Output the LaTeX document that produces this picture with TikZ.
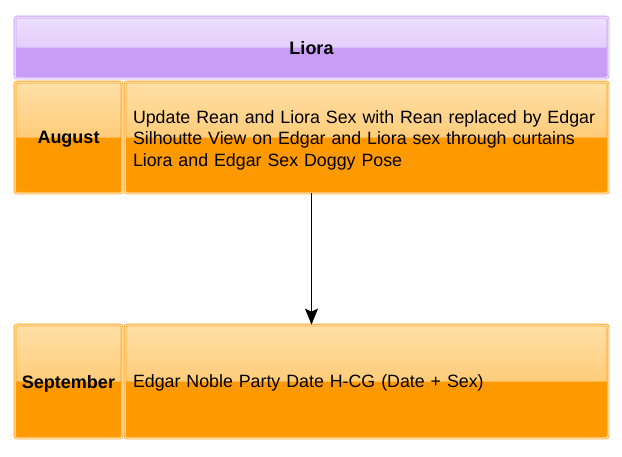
\documentclass[tikz,border=0pt]{standalone}
\usepackage{fontspec}
\setmainfont{Liberation Sans}
\usetikzlibrary{arrows.meta}
\definecolor{orBorder}{HTML}{FFA31A}
\definecolor{orTop}{HTML}{FFE0A8}
\definecolor{orMid}{HTML}{FFB84A}
\definecolor{orFill}{HTML}{FF9900}
\definecolor{puBorder}{HTML}{C9A2F4}
\definecolor{puTop}{HTML}{EDE0FD}
\definecolor{puMid}{HTML}{D8BCFA}
\definecolor{puFill}{HTML}{C99CF8}
\begin{document}
\begin{tikzpicture}[x=1pt,y=-1pt,
    glossy/.style n args={4}{draw=#1, double=white!85!#1, double distance=1pt,
      line width=0.8pt, rounded corners=2pt, fill=#4, text depth=-2pt,
      path picture={\fill[top color=#2, bottom color=#3]
        (path picture bounding box.north west) rectangle (path picture bounding box.east);}},
    monthbox/.style={glossy={orBorder}{orTop}{orMid}{orFill}, minimum width=107pt,
      font=\fontsize{18}{21}\selectfont\bfseries},
    itembox/.style={glossy={orBorder}{orTop}{orMid}{orFill}, minimum width=483pt,
      text width=467pt, inner sep=8pt, align=left,
      font=\fontsize{17.8}{21.7}\selectfont},
    titlebox/.style={glossy={puBorder}{puTop}{puMid}{puFill}, minimum width=593pt,
      minimum height=61pt, font=\fontsize{18}{21}\selectfont\bfseries}]
  \useasboundingbox (0,0) rectangle (622,456);

  \node[titlebox] (liora) at (311.5,47.5) {Liora};

  \node[monthbox, minimum height=111pt] (august) at (68.5,137.5) {August};
  \node[itembox, minimum height=111pt, text depth=41.5pt] (augtext) at (366.5,137.5)
    {Update Rean and Liora Sex with Rean replaced by Edgar\\
     Silhoutte View on Edgar and Liora sex through curtains\\
     Liora and Edgar Sex Doggy Pose};

  \node[monthbox, minimum height=113pt] (september) at (68.5,381.5) {September};
  \node[itembox, minimum height=113pt] (septext) at (366.5,381.5)
    {Edgar Noble Party Date H-CG (Date + Sex)};

  \draw[-{Stealth[length=16pt,width=13pt,inset=3pt]}, line width=1.2pt]
    (liora.south |- augtext.south) -- (liora.south |- septext.north);
\end{tikzpicture}
\end{document}
